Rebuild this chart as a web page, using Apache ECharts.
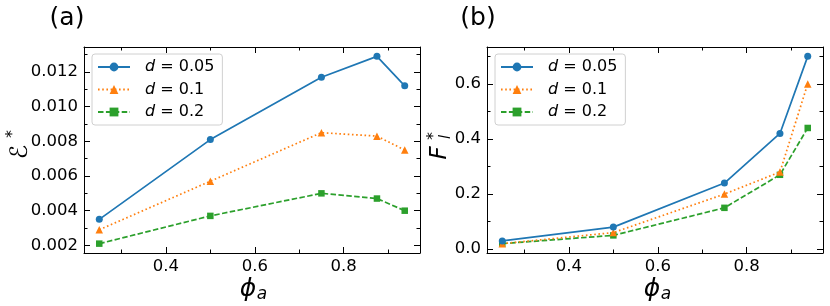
<!DOCTYPE html>
<html>
<head>
<meta charset="utf-8">
<script src="https://cdn.jsdelivr.net/npm/echarts@6/dist/echarts.min.js"></script>
<style>html,body{margin:0;padding:0;background:#fff;}#c{width:830px;height:306px;}</style>
</head>
<body>
<div id="c"></div>
<script>
// ---- data ----
const phiA = [0.25, 0.5, 0.75, 0.875, 0.9375];
const dLabels = ['0.05', '0.1', '0.2'];
const eps_d005 = [0.0035, 0.0081, 0.0117, 0.0129, 0.0112];
const eps_d01  = [0.0029, 0.0057, 0.0085, 0.0083, 0.0075];
const eps_d02  = [0.0021, 0.0037, 0.0050, 0.0047, 0.0040];
const fl_d005 = [0.03, 0.08, 0.24, 0.42, 0.70];
const fl_d01  = [0.02, 0.06, 0.20, 0.28, 0.60];
const fl_d02  = [0.02, 0.05, 0.15, 0.27, 0.44];
const xMajorTicks = [0.4, 0.6, 0.8];
const xMinorTicks = [0.3, 0.5, 0.7, 0.9];
const epsMajorTicks = [0.002, 0.004, 0.006, 0.008, 0.010, 0.012];
const epsMinorTicks = [0.003, 0.005, 0.007, 0.009, 0.011, 0.013];
const flMajorTicks = [0.0, 0.2, 0.4, 0.6];
const flMinorTicks = [0.1, 0.3, 0.5, 0.7];

const FONT = 'DejaVu Sans';
const colors = ['#1f77b4', '#ff7f0e', '#2ca02c'];
const lineTypes = ['solid', [1.6, 2.6], [5.5, 2.4]];
const symbols = ['circle', 'triangle', 'rect'];
const symSizes = [7, 7.5, 6.5];

function axisSet(dim, gi, min, max, majors, minors, fmt) {
  const posA = dim === 'x' ? 'bottom' : 'left';
  const posB = dim === 'x' ? 'top' : 'right';
  const line = {show: true, onZero: false, lineStyle: {color: '#000', width: 1}};
  const noLine = {show: false, onZero: false};
  const base = {type: 'value', gridIndex: gi, min: min, max: max, splitLine: {show: false},
    axisLabel: {show: false}};
  const tick = (vals, len) => ({show: true, inside: true, length: len, customValues: vals,
    lineStyle: {color: '#000', width: 1}});
  return [
    Object.assign({}, base, {position: posA, axisLine: line, axisTick: tick(majors, 6),
      axisLabel: {show: true, customValues: majors, formatter: fmt, color: '#000',
        fontFamily: FONT, fontSize: 16.5, margin: dim === 'x' ? 5 : 6}}),
    Object.assign({}, base, {position: posA, axisLine: noLine, axisTick: tick(minors, 3.5)}),
    Object.assign({}, base, {position: posB, axisLine: line, axisTick: tick(majors, 6)}),
    Object.assign({}, base, {position: posB, axisLine: noLine, axisTick: tick(minors, 3.5)})
  ];
}

const fx = v => v.toFixed(1);
const xAxes = [].concat(
  axisSet('x', 0, 0.215625, 0.971875, xMajorTicks, xMinorTicks, fx),
  axisSet('x', 1, 0.215625, 0.971875, xMajorTicks, xMinorTicks, fx)
);
const yAxes = [].concat(
  axisSet('y', 0, 0.00156, 0.01344, epsMajorTicks, epsMinorTicks, v => v.toFixed(3)),
  axisSet('y', 1, -0.014, 0.734, flMajorTicks, flMinorTicks, fx)
);

function mkSeries(vals, i, axisIdx) {
  return {
    type: 'line', name: dLabels[i], xAxisIndex: axisIdx, yAxisIndex: axisIdx,
    data: phiA.map((x, k) => [x, vals[k]]),
    symbol: symbols[i], symbolSize: symSizes[i], showSymbol: true,
    lineStyle: {color: colors[i], width: 1.7, type: lineTypes[i]},
    itemStyle: {color: colors[i], borderWidth: 0},
    emphasis: {disabled: true}, animation: false, z: 5 - i
  };
}
const series = [
  mkSeries(eps_d005, 0, 0), mkSeries(eps_d01, 1, 0), mkSeries(eps_d02, 2, 0),
  mkSeries(fl_d005, 0, 4), mkSeries(fl_d01, 1, 4), mkSeries(fl_d02, 2, 4)
];

function mkLegend(left) {
  return {
    orient: 'vertical', left: left, top: 54, data: dLabels,
    itemWidth: 32, itemHeight: 11, itemGap: 6.5, padding: [5, 8, 5, 5],
    backgroundColor: '#fff', borderColor: '#d0d0d0', borderWidth: 1, borderRadius: 3,
    selectedMode: false,
    formatter: n => '{i|d} = ' + n,
    textStyle: {fontFamily: FONT, fontSize: 16, color: '#000', padding: [0, 0, 0, 10],
      rich: {i: {fontFamily: FONT, fontSize: 16, fontStyle: 'italic', color: '#000'}}}
  };
}

function txt(x, y, s, size, italic, rot) {
  return {type: 'text', x: x, y: y, rotation: rot || 0, silent: true,
    style: {text: s, fontFamily: FONT, fontSize: size, fontStyle: italic ? 'italic' : 'normal',
      fill: '#000', align: 'center', verticalAlign: 'middle'}};
}
const R = Math.PI / 2;
const graphics = [
  txt(67, 18, '(a)', 25, false),
  txt(478, 18, '(b)', 25, false),
  // x titles
  txt(248, 289, '\u03d5', 25, true), txt(262, 295, 'a', 17, true),
  txt(652, 289, '\u03d5', 25, true), txt(666, 295, 'a', 17, true),
  // left y title  E*
  txt(21, 152, '\u2130', 24, false, R), txt(13, 134, '*', 16, false, R),
  // right y title F_l^*
  txt(440, 153, 'F', 23, true, R), txt(434, 136, '*', 16, false, R), txt(446, 137, 'l', 15, true, R)
];

const chart = echarts.init(document.getElementById('c'), null, {renderer: 'canvas'});
chart.setOption({
  animation: false,
  backgroundColor: '#fff',
  grid: [
    {left: 84, top: 47, width: 336, height: 206},
    {left: 487, top: 47, width: 336, height: 206}
  ],
  xAxis: xAxes, yAxis: yAxes,
  legend: [mkLegend(92), mkLegend(495)],
  series: series,
  graphic: graphics
});
</script>
</body>
</html>
